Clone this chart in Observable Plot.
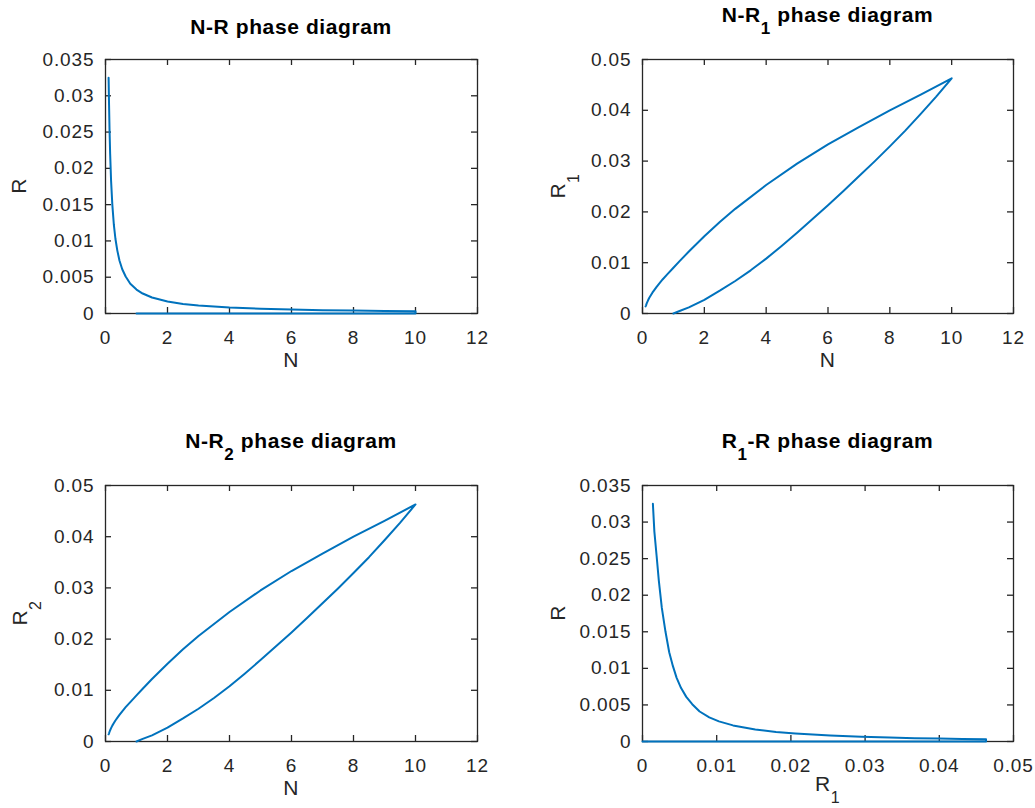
<!DOCTYPE html>
<html><head><meta charset="utf-8">
<script src="https://cdn.jsdelivr.net/npm/d3@7"></script>
<script src="https://cdn.jsdelivr.net/npm/@observablehq/plot@0.6"></script>
<style>
body{margin:0;background:#fff;}
#wrap{position:relative;width:1035px;height:808px;background:#fff;overflow:hidden;}
#wrap > svg{position:absolute;}
</style></head><body><div id="wrap"></div>
<script>
// ---- data (trajectory: growth branch, then decay branch) ----
const N_up  = [1.0, 1.2, 1.5, 2.0, 2.5, 3.0, 3.5, 4.0, 4.5, 5.0, 5.5, 6.0, 6.5, 7.0, 7.5, 8.0, 8.5, 9.0, 9.5, 10.0];
const R1_up = [0, 0.0005, 0.0012, 0.0027, 0.0045, 0.0064, 0.0085, 0.0108, 0.0133, 0.0159, 0.0186, 0.0213, 0.0241, 0.0270, 0.0299, 0.0329, 0.0360, 0.0393, 0.0427, 0.0463];
const R2_up = [0, 0.0005, 0.0012, 0.0027, 0.0045, 0.0064, 0.0085, 0.0108, 0.0133, 0.0159, 0.0186, 0.0213, 0.0241, 0.0270, 0.0299, 0.0329, 0.0360, 0.0393, 0.0427, 0.0463];
const R_up  = [0, 0, 0, 0, 0, 0, 0, 0, 0, 0, 0, 0, 0, 0, 0, 0, 0, 0, 0, 0];

const N_down  = [10, 9, 8, 7, 6, 5, 4, 3, 2.5, 2, 1.5, 1.2, 1, 0.8, 0.65, 0.54, 0.45, 0.38, 0.32, 0.27, 0.22, 0.18, 0.15, 0.13, 0.115, 0.1];
const R1_down = [0.0463, 0.0431, 0.0400, 0.0367, 0.0333, 0.0295, 0.0253, 0.0206, 0.0180, 0.0152, 0.0122, 0.0103, 0.0090, 0.0077, 0.0067, 0.0059, 0.0052, 0.0046, 0.0041, 0.0036, 0.0031, 0.0026, 0.0022, 0.0019, 0.0016, 0.0014];
const R2_down = [0.0463, 0.0431, 0.0400, 0.0367, 0.0333, 0.0295, 0.0253, 0.0206, 0.0180, 0.0152, 0.0122, 0.0103, 0.0090, 0.0077, 0.0067, 0.0059, 0.0052, 0.0046, 0.0041, 0.0036, 0.0031, 0.0026, 0.0022, 0.0019, 0.0016, 0.0014];
const R_down  = [0.0003, 0.00035, 0.0004, 0.00046, 0.00054, 0.00065, 0.00082, 0.0011, 0.0013, 0.00165, 0.0022, 0.00275, 0.0033, 0.0041, 0.0051, 0.0061, 0.0073, 0.0087, 0.0103, 0.0122, 0.015, 0.0183, 0.022, 0.0254, 0.0287, 0.0325];

// tick values
const xTicksN   = [0, 2, 4, 6, 8, 10, 12];
const yTicksR   = [0, 0.005, 0.01, 0.015, 0.02, 0.025, 0.03, 0.035];
const yTicksR12 = [0, 0.01, 0.02, 0.03, 0.04, 0.05];
const xTicksR1  = [0, 0.01, 0.02, 0.03, 0.04, 0.05];

// titles / labels (text, isSubscript)
const titles = [
  [["N-R", 0], [" phase diagram", 0]],
  [["N-R", 0], ["1", 1], [" phase diagram", 0]],
  [["N-R", 0], ["2", 1], [" phase diagram", 0]],
  [["R", 0], ["1", 1], ["-R phase diagram", 0]]
];

const traj = N_up.concat(N_down).map((n, i) => ({
  N: n,
  R1: R1_up.concat(R1_down)[i],
  R2: R2_up.concat(R2_down)[i],
  R: R_up.concat(R_down)[i]
}));

const FONT = "'Liberation Sans', Arial, Helvetica, sans-serif";
const AX = "#262626";
const LINE = "#0072BD";

function addRich(g, parts, opts) {
  const t = g.append("text")
    .attr("text-anchor", "middle")
    .attr("fill", opts.fill)
    .style("font-family", FONT)
    .style("font-weight", opts.bold ? "bold" : "normal")
    .style("font-size", opts.size + "px")
    .style("letter-spacing", (opts.ls || 0) + "px");
  if (opts.transform) t.attr("transform", opts.transform);
  else t.attr("x", opts.x).attr("y", opts.y);
  let sub = false;
  parts.forEach(([s, isSub]) => {
    const ts = t.append("tspan").text(s);
    if (isSub && !sub) ts.attr("dy", opts.subDy);
    if (!isSub && sub) ts.attr("dy", -opts.subDy);
    if (isSub) ts.style("font-size", opts.subSize + "px");
    sub = !!isSub;
  });
  return t;
}

function panel(cfg) {
  const {xKey, yKey, xDomain, yDomain, xTicks, yTicks, left, top, width, height, mL, mR, mT, mB,
         title, titleY, xlabel, xlabelY, ylabel, ylabelX} = cfg;
  const fw = width - mL - mR, fh = height - mT - mB;
  const fmt = d => String(d);
  const plot = Plot.plot({
    width, height,
    marginLeft: mL, marginRight: mR, marginTop: mT, marginBottom: mB,
    style: {fontFamily: FONT, fontSize: "19px", letterSpacing: "0.9px", color: AX, background: "transparent", overflow: "visible"},
    x: {domain: xDomain, label: null},
    y: {domain: yDomain, label: null},
    marks: [
      Plot.frame({stroke: AX, strokeWidth: 1.3}),
      Plot.tickX(xTicks, {x: d => d, insetTop: fh - 6, stroke: AX, strokeWidth: 1.3}),
      Plot.tickX(xTicks, {x: d => d, insetBottom: fh - 6, stroke: AX, strokeWidth: 1.3}),
      Plot.tickY(yTicks, {y: d => d, insetRight: fw - 6, stroke: AX, strokeWidth: 1.3}),
      Plot.tickY(yTicks, {y: d => d, insetLeft: fw - 6, stroke: AX, strokeWidth: 1.3}),
      Plot.axisX(xTicks, {tickSize: 0, tickPadding: 17, tickFormat: fmt, fill: AX, label: null}),
      Plot.axisY(yTicks, {tickSize: 0, tickPadding: 11, tickFormat: fmt, fill: AX, label: null}),
      Plot.line(traj, {x: xKey, y: yKey, stroke: LINE, strokeWidth: 2, strokeLinejoin: "round"})
    ]
  });
  plot.style.left = left + "px";
  plot.style.top = top + "px";
  const g = d3.select(plot);
  const cx = mL + fw / 2, cy = mT + fh / 2;
  addRich(g, title, {x: cx, y: titleY, fill: "#000", bold: true, size: 21, subSize: 17, subDy: 12, ls: 0.6});
  addRich(g, xlabel, {x: cx, y: xlabelY, fill: AX, size: 21, subSize: 16, subDy: 12, ls: 0.5});
  addRich(g, ylabel, {transform: `translate(${ylabelX},${cy}) rotate(-90)`, fill: AX, size: 21, subSize: 16, subDy: 14, ls: 0.5});
  document.getElementById("wrap").appendChild(plot);
}

panel({xKey: "N", yKey: "R", xDomain: [0, 12], yDomain: [0, 0.035], xTicks: xTicksN, yTicks: yTicksR,
  left: 0, top: 0, width: 517, height: 400, mL: 105, mR: 40, mT: 59, mB: 87,
  title: titles[0], titleY: 34, xlabel: [["N", 0]], xlabelY: 367, ylabel: [["R", 0]], ylabelX: 26});
panel({xKey: "N", yKey: "R1", xDomain: [0, 12], yDomain: [0, 0.05], xTicks: xTicksN, yTicks: yTicksR12,
  left: 517, top: 0, width: 518, height: 400, mL: 125, mR: 22, mT: 59, mB: 87,
  title: titles[1], titleY: 22, xlabel: [["N", 0]], xlabelY: 367, ylabel: [["R", 0], ["1", 1]], ylabelX: 48});
panel({xKey: "N", yKey: "R2", xDomain: [0, 12], yDomain: [0, 0.05], xTicks: xTicksN, yTicks: yTicksR12,
  left: 0, top: 400, width: 517, height: 408, mL: 105, mR: 40, mT: 85, mB: 67,
  title: titles[2], titleY: 48, xlabel: [["N", 0]], xlabelY: 395, ylabel: [["R", 0], ["2", 1]], ylabelX: 27});
panel({xKey: "R1", yKey: "R", xDomain: [0, 0.05], yDomain: [0, 0.035], xTicks: xTicksR1, yTicks: yTicksR,
  left: 517, top: 400, width: 518, height: 408, mL: 125, mR: 22, mT: 85, mB: 67,
  title: titles[3], titleY: 48, xlabel: [["R", 0], ["1", 1]], xlabelY: 391, ylabel: [["R", 0]], ylabelX: 48});
</script>
</body></html>
